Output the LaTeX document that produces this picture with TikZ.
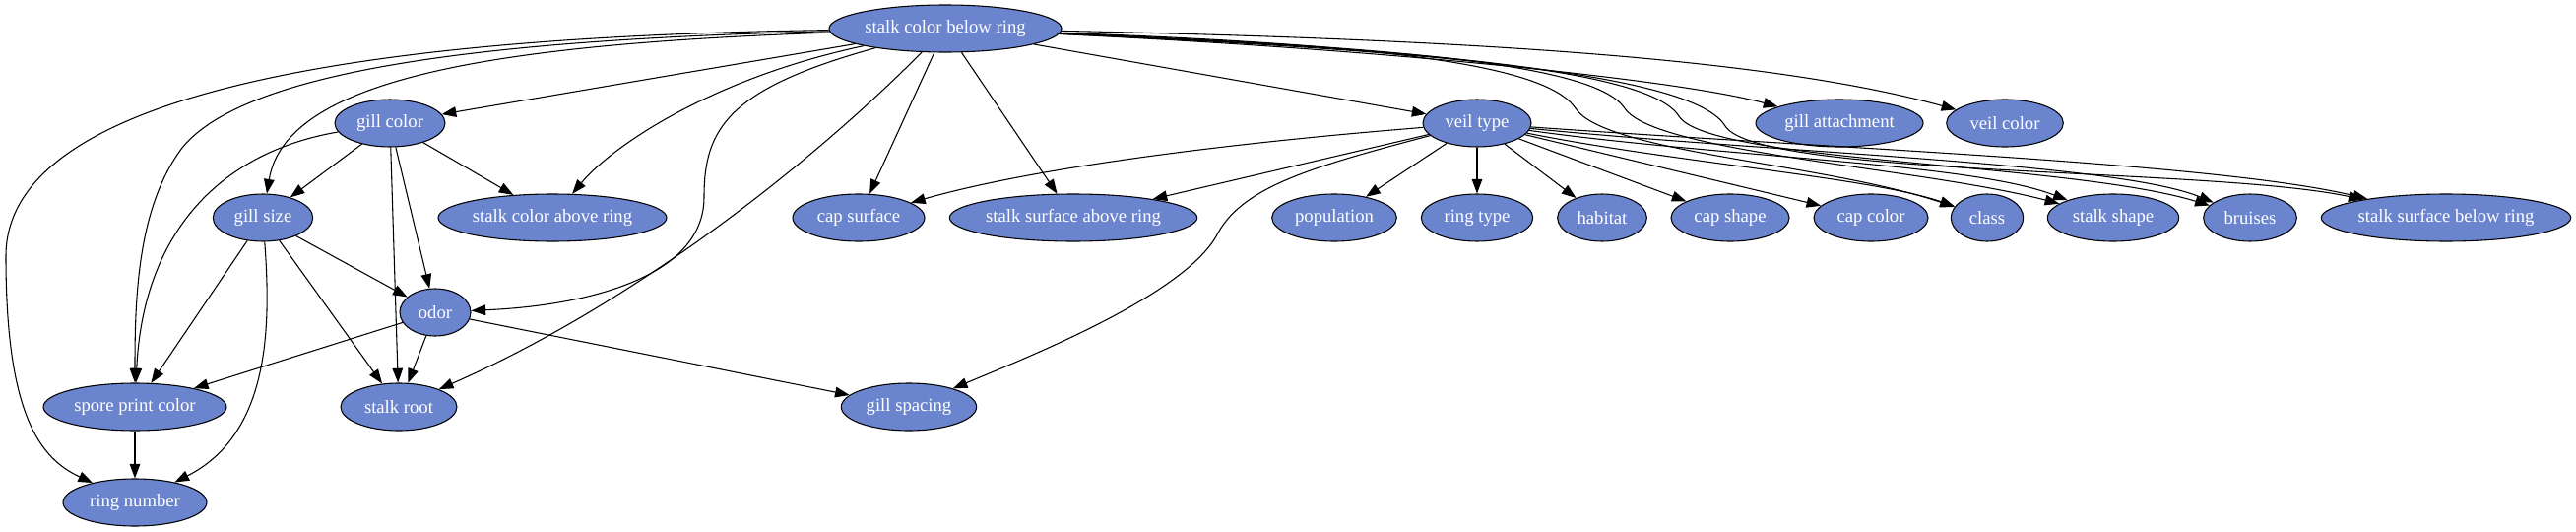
\documentclass[tikz,border=0pt]{standalone}
\usepackage{fontspec}
\setmainfont{Liberation Serif}
\usepackage{tikz}
\usetikzlibrary{shapes.geometric,arrows.meta}
\usepackage{xcolor}
\definecolor{varcolor}{RGB}{107,132,206}

\begin{document}
\begin{tikzpicture}[
  x=0.75pt,y=-0.75pt,line width=0.8pt,
  every node/.style={ellipse,draw,fill=varcolor,text=white,minimum height=36pt,
    inner sep=0pt,font=\fontsize{14}{16}\selectfont},
  >={Triangle[length=11pt,width=8pt]}
]
  \useasboundingbox (0,0) rectangle (2616,539);
  % variables of the network, one row per rank
  \node[minimum width=177pt]   (scbr)   at (960,29)   {stalk color below ring};
  \node[minimum width=84pt]    (gc)     at (396,125)  {gill color};
  \node[minimum width=82.5pt]  (vt)     at (1500,125) {veil type};
  \node[minimum width=127.5pt] (ga)     at (1868,125) {gill attachment};
  \node[minimum width=89pt]    (vc)     at (2036,125) {veil color};
  \node[minimum width=76pt]    (gs)     at (267,221)  {gill size};
  \node[minimum width=174pt]   (scar)   at (561,221)  {stalk color above ring};
  \node[minimum width=100.5pt] (csurf)  at (872,221)  {cap surface};
  \node[minimum width=188pt]   (ssar)   at (1090,221) {stalk surface above ring};
  \node[minimum width=95pt]    (pop)    at (1355,221) {population};
  \node[minimum width=85pt]    (rt)     at (1500,221) {ring type};
  \node[minimum width=68pt]    (hab)    at (1627,221) {habitat};
  \node[minimum width=90pt]    (cshape) at (1757,221) {cap shape};
  \node[minimum width=87pt]    (ccolor) at (1900,221) {cap color};
  \node[minimum width=55pt]    (cls)    at (2018,221) {class};
  \node[minimum width=100pt]   (sshape) at (2146,221) {stalk shape};
  \node[minimum width=71pt]    (bru)    at (2285,221) {bruises};
  \node[minimum width=190pt]   (ssbr)   at (2484,221) {stalk surface below ring};
  \node[minimum width=54pt]    (odor)   at (442,317)  {odor};
  \node[minimum width=139.5pt] (spc)    at (137,413)  {spore print color};
  \node[minimum width=88.5pt]  (sr)     at (405,413)  {stalk root};
  \node[minimum width=103pt]   (gsp)    at (923,413)  {gill spacing};
  \node[minimum width=109.5pt] (rn)     at (137,510)  {ring number};

  % edges out of stalk color below ring
  \draw[->] (scbr) .. controls (300,38) and (6,110) .. (6,260) .. controls (6,420) and (40,465) .. (rn);
  \draw[->] (scbr) .. controls (500,40) and (250,70) .. (185,150) .. controls (140,210) and (137,300) .. (spc);
  \draw[->] (scbr) .. controls (500,45) and (290,80) .. (gs);
  \draw[->] (scbr) -- (gc);
  \draw[->] (scbr) .. controls (720,80) and (620,150) .. (scar);
  \draw[->] (scbr) .. controls (740,90) and (715,130) .. (715,200) .. controls (715,280) and (600,310) .. (odor);
  \draw[->] (scbr) .. controls (820,170) and (640,310) .. (sr);
  \draw[->] (scbr) -- (csurf);
  \draw[->] (scbr) -- (ssar);
  \draw[->] (scbr) -- (vt);
  \draw[->] (scbr) .. controls (1400,50) and (1700,80) .. (ga);
  \draw[->] (scbr) .. controls (1500,40) and (1800,60) .. (vc);
  \draw[->] (scbr) .. controls (1400,45) and (1570,65) .. (1600,110) .. controls (1630,155) and (1850,165) .. (cls);
  \draw[->] (scbr) .. controls (1420,48) and (1620,65) .. (1650,110) .. controls (1680,155) and (1950,170) .. (sshape);
  \draw[->] (scbr) .. controls (1440,50) and (1675,70) .. (1705,118) .. controls (1735,165) and (2100,165) .. (bru);
  \draw[->] (scbr) .. controls (1460,52) and (1720,75) .. (1752,128) .. controls (1785,180) and (2250,170) .. (ssbr);

  % edges out of veil type
  \draw[->] (vt) .. controls (1250,145) and (1050,170) .. (csurf);
  \draw[->] (vt) -- (ssar);
  \draw[->] (vt) .. controls (1330,170) and (1260,190) .. (1235,240) .. controls (1200,300) and (1050,360) .. (gsp);
  \draw[->] (vt) -- (pop);
  \draw[->] (vt) -- (rt);
  \draw[->] (vt) -- (hab);
  \draw[->] (vt) -- (cshape);
  \draw[->] (vt) -- (ccolor);
  \draw[->] (vt) .. controls (1700,165) and (1900,180) .. (cls);
  \draw[->] (vt) .. controls (1750,160) and (2000,165) .. (sshape);
  \draw[->] (vt) .. controls (1800,155) and (2150,165) .. (bru);
  \draw[->] (vt) .. controls (1850,150) and (2250,165) .. (ssbr);

  % gill color, gill size, odor
  \draw[->] (gc) -- (gs);
  \draw[->] (gc) -- (scar);
  \draw[->] (gc) -- (odor);
  \draw[->] (gc) -- (sr);
  \draw[->] (gc) .. controls (220,155) and (145,240) .. (spc);
  \draw[->] (gs) -- (odor);
  \draw[->] (gs) -- (spc);
  \draw[->] (gs) -- (sr);
  \draw[->] (gs) .. controls (275,330) and (275,440) .. (rn);
  \draw[->] (odor) -- (spc);
  \draw[->] (odor) -- (sr);
  \draw[->] (odor) -- (gsp);
  \draw[->] (spc) -- (rn);
\end{tikzpicture}
\end{document}
